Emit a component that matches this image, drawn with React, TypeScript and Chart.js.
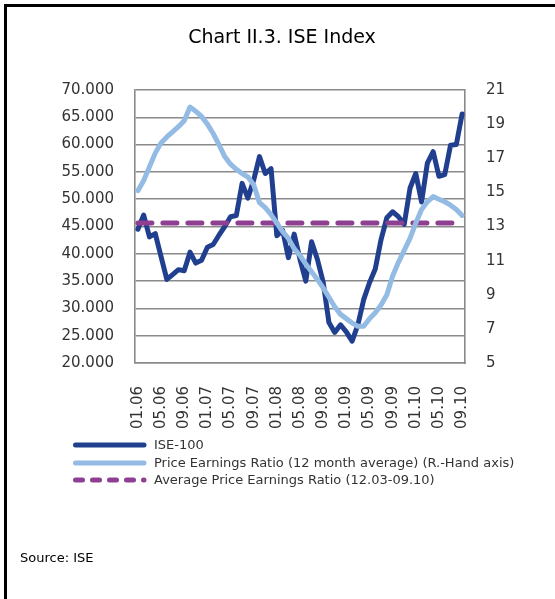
import React, { useEffect, useRef } from 'react';
import { Chart, registerables } from 'chart.js';

Chart.register(...registerables);

const categories = [
  '01.06', '02.06', '03.06', '04.06', '05.06', '06.06', '07.06', '08.06', '09.06', '10.06', '11.06', '12.06',
  '01.07', '02.07', '03.07', '04.07', '05.07', '06.07', '07.07', '08.07', '09.07', '10.07', '11.07', '12.07',
  '01.08', '02.08', '03.08', '04.08', '05.08', '06.08', '07.08', '08.08', '09.08', '10.08', '11.08', '12.08',
  '01.09', '02.09', '03.09', '04.09', '05.09', '06.09', '07.09', '08.09', '09.09', '10.09', '11.09', '12.09',
  '01.10', '02.10', '03.10', '04.10', '05.10', '06.10', '07.10', '08.10', '09.10',
];

const ise100 = [
  44500, 47100, 43100, 43700, 39500, 35300, 36200, 37100, 36900, 40300, 38300, 38800,
  41200, 41700, 43400, 45000, 46800, 47000, 52900, 50200, 53500, 57800, 54700, 55600,
  43300, 44300, 39300, 43600, 39000, 35000, 42200, 39000, 34800, 27400, 25600, 27000,
  25700, 24000, 27000, 31600, 34700, 37200, 42600, 46600, 47700, 46800, 45400, 52000,
  54700, 49500, 56600, 58700, 54200, 54500, 59900, 60000, 65600,
];

const peRatio = [
  15.1, 15.7, 16.5, 17.3, 17.9, 18.25, 18.55, 18.85, 19.2, 20.0, 19.75, 19.45,
  19.0, 18.45, 17.8, 17.1, 16.65, 16.35, 16.1, 15.9, 15.45, 14.4, 14.1, 13.7,
  13.2, 12.7, 12.3, 11.7, 11.3, 10.8, 10.35, 9.9, 9.4, 8.85, 8.3, 7.85,
  7.6, 7.35, 7.15, 7.15, 7.6, 7.95, 8.4, 9.0, 10.1, 10.9, 11.6, 12.3,
  13.2, 14.0, 14.45, 14.75, 14.6, 14.45, 14.25, 14.0, 13.65,
];

const avgPE = 13.2;

const leftTicks = { min: 20000, max: 70000, step: 5000 };
const rightTicks = { min: 5, max: 21, step: 2 };

const seriesNames = [
  'ISE-100',
  'Price Earnings Ratio (12 month average) (R.-Hand axis)',
  'Average Price Earnings Ratio (12.03-09.10)',
];

const COLORS = ['#213f8f', '#93bbe3', '#8e3f92'];
const GRID = '#8a8a8a';
const TEXT = '#333333';
const FONT = 'DejaVu Sans';

function formatThousands(v: number): string {
  const k = Math.round(v / 1000);
  return k + '.000';
}

export default function App() {
  const canvasRef = useRef<HTMLCanvasElement | null>(null);

  useEffect(() => {
    const canvas = canvasRef.current;
    if (!canvas) return;
    const tickFont = { family: FONT, size: 15 };
    const chart = new Chart(canvas, {
      type: 'line',
      data: {
        labels: categories,
        datasets: [
          {
            label: seriesNames[0],
            data: ise100,
            yAxisID: 'y',
            borderColor: COLORS[0],
            backgroundColor: COLORS[0],
            borderWidth: 5,
            pointRadius: 0,
            tension: 0,
            borderJoinStyle: 'round',
            borderCapStyle: 'round',
            order: 3,
          },
          {
            label: seriesNames[1],
            data: peRatio,
            yAxisID: 'y1',
            borderColor: COLORS[1],
            backgroundColor: COLORS[1],
            borderWidth: 5,
            pointRadius: 0,
            tension: 0,
            borderJoinStyle: 'round',
            borderCapStyle: 'round',
            order: 1,
          },
          {
            label: seriesNames[2],
            data: categories.map(() => avgPE),
            yAxisID: 'y1',
            borderColor: COLORS[2],
            backgroundColor: COLORS[2],
            borderWidth: 5,
            borderDash: [14, 11],
            pointRadius: 0,
            tension: 0,
            borderCapStyle: 'round',
            order: 2,
          },
        ],
      },
      options: {
        responsive: false,
        animation: false,
        layout: { padding: { left: 0, right: 0, top: 90, bottom: 0 } },
        plugins: {
          legend: { display: false },
          tooltip: { enabled: false },
          title: { display: false },
        },
        scales: {
          x: {
            type: 'category',
            offset: true,
            grid: { display: false, drawTicks: false },
            border: { display: true, color: GRID, width: 1.6 },
            ticks: {
              autoSkip: false,
              minRotation: 90,
              maxRotation: 90,
              padding: 23,
              color: TEXT,
              font: tickFont,
              callback: (_v: any, i: number) => (i % 4 === 0 ? categories[i] : null),
            },
            afterFit: (s: any) => {
              s.height = 236;
            },
          },
          y: {
            position: 'left',
            min: leftTicks.min,
            max: leftTicks.max,
            grid: { color: GRID, lineWidth: 1.6, drawTicks: false },
            border: { display: true, color: GRID, width: 1.6 },
            ticks: {
              stepSize: leftTicks.step,
              padding: 21,
              color: TEXT,
              font: tickFont,
              callback: (v: any) => formatThousands(Number(v)),
            },
            afterFit: (s: any) => {
              s.width = 135;
            },
          },
          y1: {
            position: 'right',
            min: rightTicks.min,
            max: rightTicks.max,
            grid: { drawOnChartArea: false, drawTicks: false },
            border: { display: true, color: GRID, width: 1.6 },
            ticks: {
              stepSize: rightTicks.step,
              padding: 21,
              color: TEXT,
              font: tickFont,
            },
            afterFit: (s: any) => {
              s.width = 90;
            },
          },
        },
      },
    } as any);
    return () => chart.destroy();
  }, []);

  const legendTop = [445, 463, 480];

  return (
    <div
      style={{
        position: 'absolute',
        left: 0,
        top: 0,
        width: 555,
        height: 599,
        background: '#ffffff',
        overflow: 'hidden',
        fontFamily: FONT,
      }}
    >
      <div
        style={{
          position: 'absolute',
          left: 4,
          top: 4,
          width: 600,
          height: 650,
          borderLeft: '3px solid #000',
          borderTop: '3px solid #000',
        }}
      />
      <canvas
        ref={canvasRef}
        width={555}
        height={599}
        style={{ position: 'absolute', left: 0, top: 0, width: 555, height: 599 }}
      />
      <div
        style={{
          position: 'absolute',
          left: 132,
          width: 300,
          top: 24,
          height: 24,
          lineHeight: '24px',
          textAlign: 'center',
          fontSize: 19,
          color: '#000',
          whiteSpace: 'nowrap',
        }}
      >
        Chart II.3. ISE Index
      </div>
      {seriesNames.map((name, i) => (
        <div
          key={name}
          style={{
            position: 'absolute',
            left: 70,
            top: legendTop[i] - 9,
            height: 18,
            display: 'flex',
            alignItems: 'center',
            whiteSpace: 'nowrap',
          }}
        >
          <svg width={80} height={18} style={{ display: 'block' }}>
            <line
              x1={5.5}
              y1={9}
              x2={74}
              y2={9}
              stroke={COLORS[i]}
              strokeWidth={5}
              strokeLinecap="round"
              strokeDasharray={i === 2 ? '7 10' : undefined}
            />
          </svg>
          <span style={{ marginLeft: 4, fontSize: 13, color: TEXT, lineHeight: '18px' }}>{name}</span>
        </div>
      ))}
      <div
        style={{
          position: 'absolute',
          left: 20,
          top: 548,
          height: 20,
          lineHeight: '20px',
          fontSize: 13,
          color: '#000',
          whiteSpace: 'nowrap',
        }}
      >
        Source: ISE
      </div>
    </div>
  );
}
